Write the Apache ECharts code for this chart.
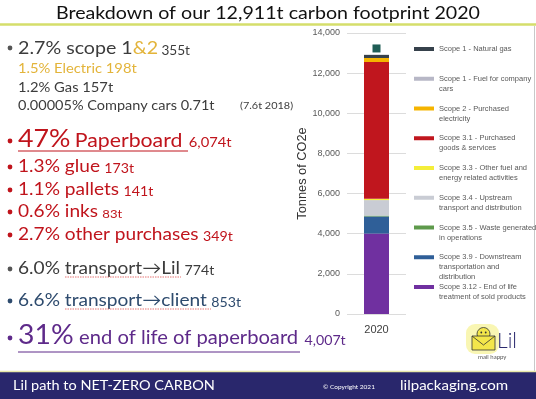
<!DOCTYPE html>
<html>
<head>
<meta charset="utf-8">
<script src="https://cdn.jsdelivr.net/npm/echarts@6/dist/echarts.min.js"></script>
<style>
  html, body { margin: 0; padding: 0; background: #fff; }
  #main { width: 536px; height: 399px; }
</style>
</head>
<body>
<div id="main"></div>
<script>
// chart data (bottom of stack first)
const categories = ['2020'];
const seriesNames = [
  'Scope 3.12 - End of life\ntreatment of sold products',
  'Scope 3.9 - Downstream\ntransportation and\ndistribution',
  'Scope 3.5 - Waste generated\nin operations',
  'Scope 3.4 - Upstream\ntransport and distribution',
  'Scope 3.3 - Other fuel and\nenergy related activities',
  'Scope 3.1 - Purchased\ngoods & services',
  'Scope 2 - Purchased\nelectricity',
  'Scope 1 - Fuel for company\ncars',
  'Scope 1 - Natural gas'
];
const values3_12 = [4007];
const values3_9 = [853];
const values3_5 = [42];
const values3_4 = [774];
const values3_3 = [60];
const values3_1 = [6820];
const valuesScope2 = [198];
const valuesCars = [0.71];
const valuesGas = [157];
const seriesValues = [values3_12, values3_9, values3_5, values3_4, values3_3, values3_1, valuesScope2, valuesCars, valuesGas];
const markerValue = 13230;

const seriesColors = ['#7030a0', '#2f5f98', '#5e9a4c', '#c9ccd4', '#f4ee3a', '#c0161e', '#f5b400', '#b7b7c6', '#36414b'];

const chartDom = document.getElementById('main');
const myChart = echarts.init(chartDom);

// text measuring for the left-hand notes
const ctx = document.createElement('canvas').getContext('2d');
function tw(text, size) {
  ctx.font = size + 'px Lato';
  return ctx.measureText(text).width;
}
const TITLE = 'Breakdown of our 12,911t carbon footprint 2020';
const SX = 424 / tw(TITLE, 18);
const K = 0.36; // middle -> baseline offset

const notes = [];
function row(x, base, segs) {
  let cx = x / SX;
  segs.forEach(function (s) {
    notes.push({
      type: 'text', x: cx, y: base - K * s[1],
      style: { text: s[0], font: s[1] + 'px Lato', fill: s[2], verticalAlign: 'middle' }
    });
    cx += tw(s[0], s[1]) + (s[3] || 0);
  });
  return cx * SX;
}
const GREY = '#3c3c3c', GOLD = '#e3b43a', RED = '#c0141c', BLUE = '#2e4b6e', PURPLE = '#5e2a8a';

row(18, 55, [['2.7% scope 1', 18, GREY], ['&2', 18, GOLD, 3], ['355t', 12.5, GREY]]);
row(18, 74, [['1.5% Electric 198t', 13.5, GOLD]]);
row(18, 93, [['1.2% Gas 157t', 13.5, GREY]]);
row(18, 110, [['0.00005% Company cars 0.71t', 13.3, GREY]]);
row(240, 109, [['(7.6t 2018)', 10, GREY]]);
const pEnd = row(18, 148, [['47%', 24.5, RED, 4], ['Paperboard', 19.5, RED, 4]]);
row(pEnd + 2, 148, [['6,074t', 13.5, RED]]);
row(18, 173, [['1.3% glue', 17.5, RED, 4], ['173t', 13, RED]]);
row(18, 196, [['1.1% pallets', 17.5, RED, 4], ['141t', 13, RED]]);
row(18, 218, [['0.6% inks', 17.5, RED, 4], ['83t', 12, RED]]);
row(18, 241, [['2.7% other purchases', 17.5, RED, 4], ['349t', 13, RED]]);
row(18, 275, [['6.0% transport\u2192Lil', 17.5, GREY, 4], ['774t', 13, GREY]]);
row(18, 307, [['6.6% transport\u2192client', 17.5, BLUE, 4], ['853t', 13, BLUE]]);
const eEnd = row(18, 345, [['31%', 26, PURPLE, 5], ['end of life of paperboard', 18.5, PURPLE, 4]]);
row(eEnd + 2, 345, [['4,007t', 13, PURPLE]]);

const bullets = [[10, 48, '#555'], [10, 141, RED], [10, 167, RED], [10, 190, RED], [10, 212, RED], [10, 235, RED],
  [10, 269, '#555'], [10, 301, BLUE], [10, 338, PURPLE]].map(function (b) {
  return { type: 'circle', shape: { cx: b[0], cy: b[1], r: 2.4 }, style: { fill: b[2] } };
});

function hline(x1, x2, y, color, w, dash) {
  return { type: 'line', shape: { x1: x1, y1: y, x2: x2, y2: y }, style: { stroke: color, lineWidth: w, lineDash: dash || null } };
}

// one legend per entry so the key sits beside the first text line
const legendOrder = seriesNames.slice().reverse();
const LH = 10;
const legends = legendOrder.map(function (name, i) {
  const n = name.split('\n').length;
  return {
    data: [name],
    left: 414,
    top: 49 + i * 29.75 - (2 * n - 1) * LH / 2,
    padding: 0,
    icon: 'rect',
    itemWidth: 20,
    itemHeight: 4,
    selectedMode: false,
    formatter: function (nm) { return '\n'.repeat(n - 1) + nm; },
    textStyle: { fontSize: 7.5, color: '#5a5a5a', fontFamily: 'Liberation Sans', lineHeight: LH }
  };
});

const option = {
  backgroundColor: '#fff',
  animation: false,
  legend: legends,
  grid: { left: 347, right: 130, top: 33, bottom: 85 },
  xAxis: {
    type: 'category',
    data: categories,
    axisLine: { show: false },
    axisTick: { show: false },
    axisLabel: { color: '#404040', fontSize: 11, fontFamily: 'Liberation Sans', margin: 10 }
  },
  yAxis: {
    type: 'value',
    min: 0,
    max: 14000,
    interval: 2000,
    name: 'Tonnes of CO2e',
    nameLocation: 'middle',
    nameGap: 37,
    nameTextStyle: { color: '#333', fontSize: 12.8, fontFamily: 'Liberation Sans' },
    axisLine: { show: false },
    axisTick: { show: false },
    axisLabel: {
      color: '#595959', fontSize: 9, fontFamily: 'Liberation Sans', margin: 7,
      formatter: function (v) { return v.toLocaleString('en-US'); }
    },
    splitLine: { lineStyle: { color: '#dcdcdc' } }
  },
  series: seriesNames.map(function (name, i) {
    const s = {
      name: name,
      type: 'bar',
      stack: 'total',
      barWidth: 25,
      data: seriesValues[i],
      itemStyle: { color: seriesColors[i] }
    };
    if (i === seriesNames.length - 1) {
      s.markPoint = {
        symbol: 'rect', symbolSize: 8, label: { show: false },
        itemStyle: { color: '#1f5d55' },
        data: [{ coord: [categories[0], markerValue] }]
      };
    }
    return s;
  }),
  graphic: [
    { type: 'text', x: 268, y: 13, scaleX: SX, style: { text: TITLE, font: '18px Lato', fill: '#111', align: 'center', verticalAlign: 'middle' } },
    hline(0, 536, 24.5, '#d5de6b', 2.5),
    { type: 'line', shape: { x1: 534.5, y1: 26, x2: 534.5, y2: 371 }, style: { stroke: '#c8c8c8', lineWidth: 1 } },
    { type: 'group', scaleX: SX, children: notes },
    hline(18, 188, 151, RED, 1),
    hline(18, 300, 352, PURPLE, 1),
    hline(65, 181, 277, '#e05050', 0.8, [1.5, 1]),
    hline(65, 211, 309, '#e05050', 0.8, [1.5, 1])
  ].concat(bullets).concat([
    // footer
    { type: 'rect', shape: { x: 0, y: 372, width: 536, height: 27 }, style: { fill: '#29276c' } },
    hline(0, 536, 371.5, '#e6e8a8', 1.5),
    { type: 'text', x: 13, y: 386, scaleX: SX, style: { text: 'Lil path to NET-ZERO CARBON', font: '13.3px Lato', fill: '#fff', verticalAlign: 'middle' } },
    { type: 'text', x: 323, y: 387, style: { text: '\u00a9 Copyright 2021', font: '6.5px Lato', fill: '#fff', verticalAlign: 'middle' } },
    { type: 'text', x: 400, y: 386, scaleX: SX, style: { text: 'lilpackaging.com', font: '13.8px Lato', fill: '#fff', verticalAlign: 'middle' } },
    // logo
    { type: 'rect', shape: { x: 466, y: 324, width: 33, height: 30, r: 9 }, style: { fill: '#f7f4a0', opacity: 0.8 } },
    { type: 'circle', shape: { cx: 483.5, cy: 334, r: 6.5 }, style: { fill: '#f3e64a', stroke: '#333', lineWidth: 0.8 } },
    { type: 'circle', shape: { cx: 481.3, cy: 332.5, r: 0.9 }, style: { fill: '#333' } },
    { type: 'circle', shape: { cx: 485.7, cy: 332.5, r: 0.9 }, style: { fill: '#333' } },
    { type: 'polygon', shape: { points: [[472, 336], [495, 336], [495, 350], [472, 350]] }, style: { fill: '#f3e64a', stroke: '#333', lineWidth: 0.8 } },
    { type: 'polyline', shape: { points: [[472, 336], [483.5, 345], [495, 336]] }, style: { stroke: '#333', lineWidth: 0.8, fill: null } },
    { type: 'text', x: 497, y: 341, style: { text: 'Lil', font: '300 21px Lato', fill: '#2b2a6e', verticalAlign: 'middle' } },
    { type: 'text', x: 478, y: 357, style: { text: 'mail happy', font: '6px Lato', fill: '#555', verticalAlign: 'middle' } }
  ])
};
myChart.setOption(option);
</script>
</body>
</html>
